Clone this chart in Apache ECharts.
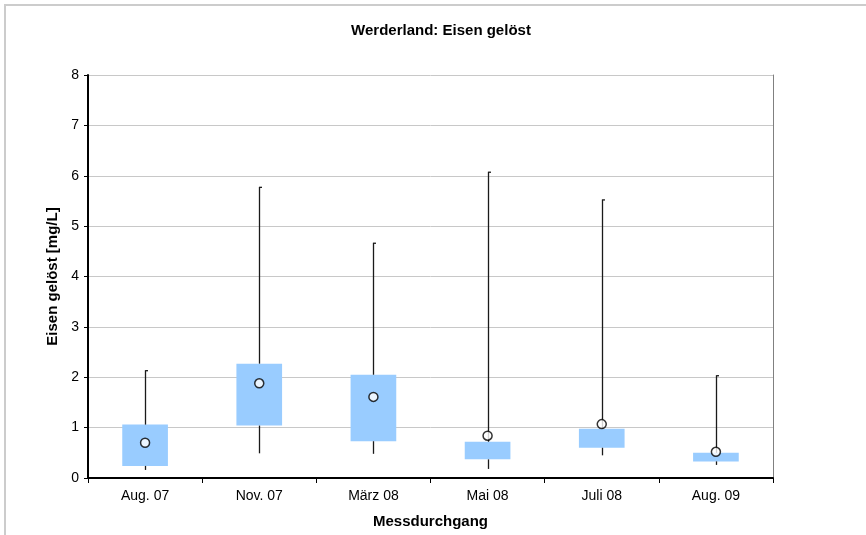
<!DOCTYPE html>
<html>
<head>
<meta charset="utf-8">
<script src="https://cdn.jsdelivr.net/npm/echarts@6/dist/echarts.min.js"></script>
<style>
  html, body { margin: 0; padding: 0; background: #fff; }
  #chart { width: 866px; height: 535px; }
</style>
</head>
<body>
<div id="chart"></div>
<script>
// Dissolved iron per sampling campaign (Werderland)
const categories = ['Aug. 07', 'Nov. 07', 'März 08', 'Mai 08', 'Juli 08', 'Aug. 09'];
const minValues  = [0.16, 0.49, 0.48, 0.18, 0.45, 0.26];
const q1Values   = [0.24, 1.04, 0.73, 0.37, 0.60, 0.33];
const q3Values   = [1.06, 2.27, 2.05, 0.72, 0.98, 0.50];
const maxValues  = [2.14, 5.78, 4.67, 6.08, 5.53, 2.04];
const meanValues = [0.70, 1.88, 1.61, 0.84, 1.07, 0.52];
const yTicks = [0, 1, 2, 3, 4, 5, 6, 7, 8];

const boxData = categories.map((c, i) => [i, minValues[i], q1Values[i], q3Values[i], maxValues[i]]);

const FONT = 'Liberation Sans, Arial, sans-serif';
const chart = echarts.init(document.getElementById('chart'), null, { renderer: 'canvas' });

chart.setOption({
  animation: false,
  backgroundColor: '#ffffff',
  graphic: [{
    type: 'rect',
    shape: { x: 5, y: 5, width: 900, height: 600 },
    style: { fill: 'none', stroke: '#cccccc', lineWidth: 2 },
    silent: true,
    z: -1
  }],
  title: {
    text: 'Werderland: Eisen gelöst',
    left: 436,
    top: 18,
    textAlign: 'center',
    textStyle: { fontFamily: FONT, fontSize: 15, fontWeight: 'bold', color: '#000' }
  },
  grid: { left: 88, right: 93, top: 75, bottom: 57 },
  xAxis: [{
    type: 'category',
    data: categories,
    boundaryGap: true,
    name: 'Messdurchgang',
    nameLocation: 'middle',
    nameGap: 36,
    nameTextStyle: { fontFamily: FONT, fontSize: 15, fontWeight: 'bold', color: '#000' },
    axisLine: { show: true, lineStyle: { color: '#000', width: 2 } },
    axisTick: { show: true, length: 5, lineStyle: { color: '#000', width: 1 } },
    axisLabel: { fontFamily: FONT, fontSize: 14, color: '#000', margin: 11 },
    splitLine: { show: false }
  }, {
    type: 'category',
    data: categories,
    position: 'top',
    axisLine: { show: true, lineStyle: { color: '#000', width: 1 } },
    axisTick: { show: false },
    axisLabel: { show: false }
  }],
  yAxis: [{
    type: 'value',
    min: 0,
    max: 8,
    interval: 1,
    name: 'Eisen gelöst [mg/L]',
    nameLocation: 'middle',
    nameGap: 26,
    nameTextStyle: { fontFamily: FONT, fontSize: 15, fontWeight: 'bold', color: '#000' },
    axisLine: { show: true, lineStyle: { color: '#000', width: 2 } },
    axisTick: { show: true, length: 4, lineStyle: { color: '#000', width: 1 } },
    axisLabel: {
      fontFamily: FONT, fontSize: 14, color: '#000', margin: 9,
      formatter: v => (yTicks.indexOf(v) >= 0 ? String(v) : '')
    },
    splitLine: { show: true, lineStyle: { color: '#c8c8c8', width: 1 } }
  }, {
    type: 'value',
    min: 0,
    max: 8,
    interval: 1,
    position: 'right',
    axisLine: { show: true, lineStyle: { color: '#808080', width: 1 } },
    axisTick: { show: false },
    axisLabel: { show: false },
    splitLine: { show: false }
  }],
  series: [{
    type: 'custom',
    name: 'Box',
    data: boxData,
    encode: { x: 0, y: [1, 2, 3, 4] },
    z: 2,
    renderItem: function (params, api) {
      const idx = api.value(0);
      const pMin = api.coord([idx, api.value(1)]);
      const pQ1 = api.coord([idx, api.value(2)]);
      const pQ3 = api.coord([idx, api.value(3)]);
      const pMax = api.coord([idx, api.value(4)]);
      const bw = api.size([1, 0])[0] * 0.4;
      const x = Math.round(pQ1[0]) + 0.5;
      const lineStyle = { stroke: '#1a1a1a', lineWidth: 1.3 };
      return {
        type: 'group',
        children: [
          {
            type: 'rect',
            shape: { x: pQ3[0] - bw / 2, y: pQ3[1], width: bw, height: pQ1[1] - pQ3[1] },
            style: { fill: '#99ccff', stroke: null }
          },
          { type: 'line', shape: { x1: x, y1: pQ3[1], x2: x, y2: pMax[1] }, style: lineStyle },
          { type: 'line', shape: { x1: x, y1: pMax[1] + 0.5, x2: x + 2.5, y2: pMax[1] + 0.5 }, style: lineStyle },
          { type: 'line', shape: { x1: x, y1: pQ1[1], x2: x, y2: pMin[1] }, style: lineStyle }
        ]
      };
    }
  }, {
    type: 'scatter',
    name: 'Mittelwert',
    data: meanValues,
    symbol: 'circle',
    symbolSize: 9,
    z: 5,
    itemStyle: { color: '#ffffff', borderColor: '#000000', borderWidth: 1.5 }
  }]
});
</script>
</body>
</html>
